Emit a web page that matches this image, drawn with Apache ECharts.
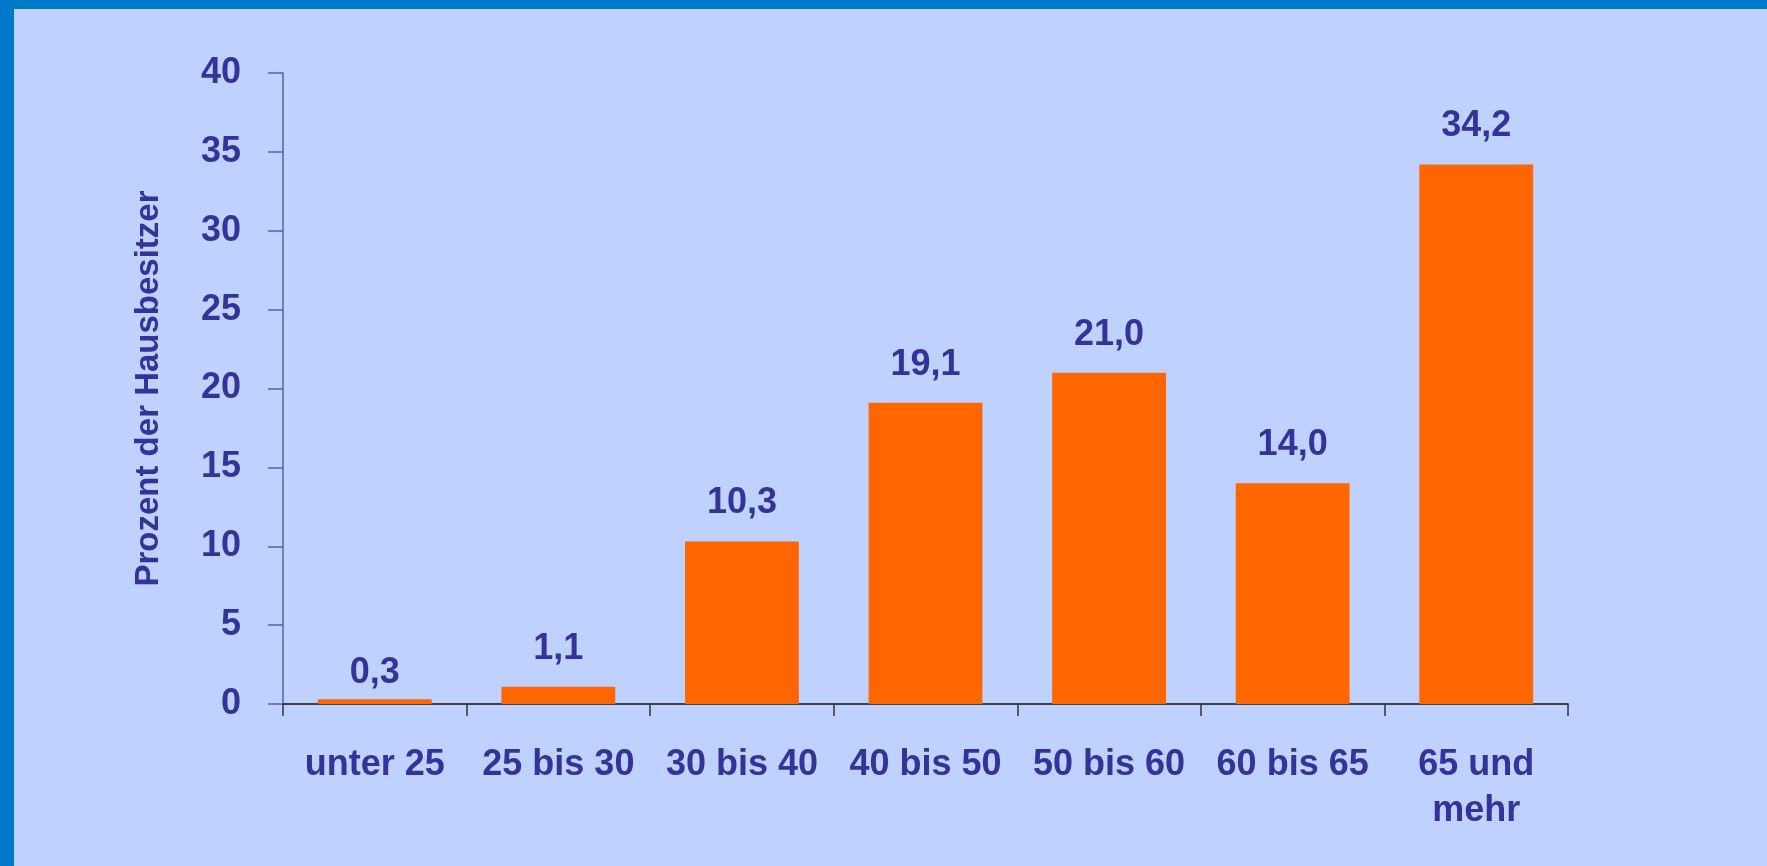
<!DOCTYPE html>
<html>
<head>
<meta charset="utf-8">
<script src="https://cdn.jsdelivr.net/npm/echarts@6/dist/echarts.min.js"></script>
<style>
html,body{margin:0;padding:0;background:#BFD1FE;}
#chart{width:1767px;height:866px;}
</style>
</head>
<body>
<div id="chart"></div>
<script>
const categories = ['unter 25', '25 bis 30', '30 bis 40', '40 bis 50', '50 bis 60', '60 bis 65', '65 und\nmehr'];
const values = [0.3, 1.1, 10.3, 19.1, 21.0, 14.0, 34.2];
const yAxisName = 'Prozent der Hausbesitzer';

const textColor = '#333399';
const fontFam = '"Liberation Sans", Arial, sans-serif';

const chart = echarts.init(document.getElementById('chart'), null, {renderer: 'canvas'});
chart.setOption({
  backgroundColor: '#BFD1FE',
  animation: false,
  graphic: [
    {type: 'rect', shape: {x: 0, y: 0, width: 1767, height: 9}, style: {fill: '#0078C8'}},
    {type: 'rect', shape: {x: 0, y: 0, width: 14, height: 866}, style: {fill: '#0078C8'}}
  ],
  grid: {left: 283, right: 199, top: 73, bottom: 162, containLabel: false},
  xAxis: {
    type: 'category',
    data: categories,
    axisLine: {lineStyle: {color: '#111111', width: 1.5}},
    axisTick: {show: true, length: 12, lineStyle: {color: '#333333', width: 1.5}},
    axisLabel: {
      margin: 38, color: textColor, fontWeight: 'bold', fontSize: 36,
      fontFamily: fontFam, lineHeight: 46, interval: 0
    }
  },
  yAxis: {
    type: 'value',
    min: 0, max: 40, interval: 5,
    name: yAxisName,
    nameLocation: 'middle',
    nameGap: 118,
    nameRotate: 90,
    nameTextStyle: {color: textColor, fontWeight: 'bold', fontSize: 33, fontFamily: fontFam},
    axisLine: {show: true, lineStyle: {color: '#5561B5', width: 1.5}},
    axisTick: {show: true, length: 15, lineStyle: {color: '#5561B5', width: 1.5}},
    splitLine: {show: false},
    axisLabel: {margin: 42, color: textColor, fontWeight: 'bold', fontSize: 36, fontFamily: fontFam}
  },
  series: [{
    type: 'bar',
    data: values.map((v, i) => i === 0 ? {value: v, label: {distance: 8}} : v),
    barCategoryGap: '38%',
    itemStyle: {color: '#FF6600'},
    label: {
      show: true, position: 'top', distance: 20,
      color: textColor, fontWeight: 'bold', fontSize: 36, fontFamily: fontFam,
      formatter: p => p.value.toFixed(1).replace('.', ',')
    }
  }]
});
</script>
</body>
</html>
